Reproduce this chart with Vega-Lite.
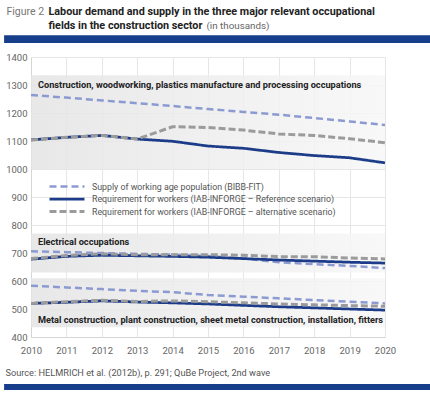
{
  "$schema": "https://vega.github.io/schema/vega-lite/v6.json",
  "autosize": "none",
  "width": 354,
  "height": 280,
  "padding": {"left": 31, "top": 57, "right": 45, "bottom": 58},
  "background": "white",
  "config": {
    "font": "Roboto",
    "view": {"stroke": null},
    "axis": {"gridColor": "#e6e6e6", "gridWidth": 1, "domainColor": "#d6d6d6", "labelColor": "#666666", "labelFontSize": 9.5, "labelFont": "Roboto", "titleFont": "Roboto", "labelOverlap": false, "labelFlush": false}
  },
  "datasets": {
    "series": [
      {"field": "construction", "year": 2010, "supply": 1264, "ref": 1104, "alt": 1104},
      {"field": "construction", "year": 2011, "supply": 1255, "ref": 1113, "alt": 1113},
      {"field": "construction", "year": 2012, "supply": 1245, "ref": 1120, "alt": 1120},
      {"field": "construction", "year": 2013, "supply": 1235, "ref": 1107, "alt": 1107},
      {"field": "construction", "year": 2014, "supply": 1225, "ref": 1099, "alt": 1151},
      {"field": "construction", "year": 2015, "supply": 1214, "ref": 1082, "alt": 1148},
      {"field": "construction", "year": 2016, "supply": 1204, "ref": 1074, "alt": 1139},
      {"field": "construction", "year": 2017, "supply": 1194, "ref": 1059, "alt": 1125},
      {"field": "construction", "year": 2018, "supply": 1182, "ref": 1048, "alt": 1120},
      {"field": "construction", "year": 2019, "supply": 1170, "ref": 1040, "alt": 1108},
      {"field": "construction", "year": 2020, "supply": 1157, "ref": 1022, "alt": 1094},
      {"field": "electrical", "year": 2010, "supply": 706, "ref": 678, "alt": 680},
      {"field": "electrical", "year": 2011, "supply": 703, "ref": 688, "alt": 691},
      {"field": "electrical", "year": 2012, "supply": 700, "ref": 692, "alt": 697},
      {"field": "electrical", "year": 2013, "supply": 697, "ref": 690, "alt": 694},
      {"field": "electrical", "year": 2014, "supply": 694, "ref": 688, "alt": 694},
      {"field": "electrical", "year": 2015, "supply": 689, "ref": 685, "alt": 694},
      {"field": "electrical", "year": 2016, "supply": 680, "ref": 680, "alt": 692},
      {"field": "electrical", "year": 2017, "supply": 667, "ref": 675, "alt": 687},
      {"field": "electrical", "year": 2018, "supply": 660, "ref": 671, "alt": 687},
      {"field": "electrical", "year": 2019, "supply": 654, "ref": 667, "alt": 682},
      {"field": "electrical", "year": 2020, "supply": 646, "ref": 664, "alt": 679},
      {"field": "metal", "year": 2010, "supply": 583, "ref": 520, "alt": 520},
      {"field": "metal", "year": 2011, "supply": 577, "ref": 524, "alt": 526},
      {"field": "metal", "year": 2012, "supply": 571, "ref": 529, "alt": 531},
      {"field": "metal", "year": 2013, "supply": 565, "ref": 525, "alt": 527},
      {"field": "metal", "year": 2014, "supply": 560, "ref": 522, "alt": 529},
      {"field": "metal", "year": 2015, "supply": 550, "ref": 518, "alt": 526},
      {"field": "metal", "year": 2016, "supply": 544, "ref": 513, "alt": 522},
      {"field": "metal", "year": 2017, "supply": 538, "ref": 508, "alt": 518},
      {"field": "metal", "year": 2018, "supply": 532, "ref": 504, "alt": 515},
      {"field": "metal", "year": 2019, "supply": 526, "ref": 500, "alt": 512},
      {"field": "metal", "year": 2020, "supply": 520, "ref": 496, "alt": 510}
    ],
    "bands": [
      {"label": "Construction, woodworking, plastics manufacture and processing occupations", "lo": 1000, "hi": 1335, "labelAt": 1300},
      {"label": "Electrical occupations", "lo": 630, "hi": 770, "labelAt": 740},
      {"label": "Metal construction, plant construction, sheet metal construction, installation, fitters", "lo": 435, "hi": 610, "labelAt": 462}
    ]
  },
  "layer": [
    {
      "data": {"name": "bands"},
      "mark": {"type": "rect", "fill": {"gradient": "linear", "x1": 0, "y1": 0, "x2": 1, "y2": 0, "stops": [{"offset": 0, "color": "#e4e4e4"}, {"offset": 1, "color": "#f7f7f7"}]}, "fillOpacity": 0.85},
      "encoding": {
        "x": {"datum": 2010, "type": "quantitative", "scale": {"domain": [2010, 2020], "nice": false, "zero": false}, "axis": null},
        "x2": {"datum": 2020},
        "y": {"field": "lo", "type": "quantitative", "scale": {"domain": [400, 1400], "nice": false, "zero": false}, "axis": null},
        "y2": {"field": "hi"}
      }
    },
    {
      "data": {"name": "bands"},
      "mark": {"type": "text", "align": "left", "baseline": "middle", "dx": 7, "fontWeight": "bold", "fontSize": 9.2, "color": "#222222", "font": "Roboto"},
      "encoding": {
        "x": {"datum": 2010, "type": "quantitative", "axis": null},
        "y": {"field": "labelAt", "type": "quantitative", "axis": null},
        "text": {"field": "label"}
      }
    },
    {
      "data": {"name": "series"},
      "transform": [{"fold": ["supply", "ref", "alt"], "as": ["series", "value"]}],
      "mark": {"type": "line", "strokeCap": "butt"},
      "encoding": {
        "x": {"field": "year", "type": "quantitative", "axis": {"orient": "bottom", "values": [2010, 2011, 2012, 2013, 2014, 2015, 2016, 2017, 2018, 2019, 2020], "format": "d", "ticks": false, "labelPadding": 8, "labelFontSize": 9.5, "domain": true, "grid": true, "title": "Source: HELMRICH et al. (2012b), p. 291; QuBe Project, 2nd wave", "titleX": -26, "titleY": 35, "titleAlign": "left", "titleBaseline": "middle", "titleFontWeight": "normal", "titleFontSize": 9.2, "titleColor": "#555555"}},
        "y": {"field": "value", "type": "quantitative", "axis": {"orient": "left", "values": [400, 500, 600, 700, 800, 900, 1000, 1100, 1200, 1300, 1400], "format": "d", "ticks": false, "labelPadding": 4, "domain": true, "grid": true, "title": "Figure 2", "titleAngle": 0, "titleX": -25, "titleY": -46, "titleAlign": "left", "titleBaseline": "middle", "titleFontWeight": "normal", "titleFontSize": 10.5, "titleColor": "#777777"}},
        "detail": {"field": "field"},
        "color": {"field": "series", "type": "nominal", "scale": {"domain": ["supply", "ref", "alt"], "range": ["#8c9ad2", "#1c3c8a", "#9b9b9b"]},
          "legend": {"orient": "none", "legendX": 17, "legendY": 123, "padding": 0, "title": null, "symbolType": "M-1,0H6", "symbolStrokeWidth": 3, "symbolSize": 100, "labelFontSize": 8.8, "labelColor": "#555555", "labelFont": "Roboto", "labelLimit": 400, "rowPadding": 0.5, "labelOffset": 31,
            "labelExpr": "datum.value == 'supply' ? 'Supply of working age population (BIBB-FIT)' : datum.value == 'ref' ? 'Requirement for workers (IAB-INFORGE – Reference scenario)' : 'Requirement for workers (IAB-INFORGE – alternative scenario)'"}},
        "strokeDash": {"field": "series", "type": "nominal", "scale": {"domain": ["supply", "ref", "alt"], "range": [[7, 4], [1, 0], [7, 3]]}},
        "strokeWidth": {"field": "series", "type": "nominal", "scale": {"domain": ["supply", "ref", "alt"], "range": [2.5, 3, 3.5]}, "legend": null}
      }
    },
    {
      "data": {"values": [{"bar": "top"}]},
      "mark": {"type": "rect", "color": "#173e8a"},
      "encoding": {
        "x": {"datum": 2009.24, "type": "quantitative", "axis": {"orient": "top", "labels": false, "ticks": false, "domain": false, "grid": false, "title": ["Labour demand and supply in the three major relevant occupational", "fields in the construction sector"], "titleX": 17, "titleY": -52, "titleAlign": "left", "titleBaseline": "top", "titleFontWeight": "bold", "titleFontSize": 10.8, "titleColor": "#222222", "titleLineHeight": 14}},
        "x2": {"datum": 2021.5},
        "y": {"datum": 1478, "type": "quantitative", "axis": {"orient": "right", "labels": false, "ticks": false, "domain": false, "grid": false, "title": "(in thousands)", "titleAngle": 0, "titleX": -179, "titleY": -32, "titleAlign": "left", "titleBaseline": "middle", "titleFontWeight": "normal", "titleFontSize": 9.8, "titleColor": "#666666"}},
        "y2": {"datum": 1450}
      }
    },
    {
      "data": {"values": [{"bar": "bottom"}]},
      "mark": {"type": "rect", "color": "#173e8a"},
      "encoding": {
        "x": {"datum": 2009.24, "type": "quantitative", "axis": null},
        "x2": {"datum": 2021.5},
        "y": {"datum": 232, "type": "quantitative", "axis": null},
        "y2": {"datum": 211}
      }
    }
  ],
  "resolve": {"axis": {"x": "independent", "y": "independent"}}
}
